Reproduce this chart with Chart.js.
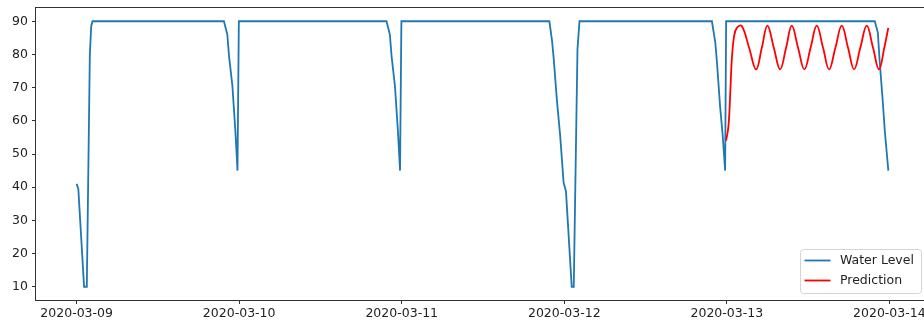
<!DOCTYPE html>
<html>
<head>
<meta charset="utf-8">
<title>Water Level</title>
<script src="https://cdn.jsdelivr.net/npm/chart.js@4.4.1/dist/chart.umd.min.js"></script>
<style>
  html, body { margin: 0; padding: 0; overflow: hidden; background: #fff; }
  #wrap { position: relative; width: 924px; height: 322px; overflow: hidden; }
  #levelChart { position: absolute; left: 0; top: 0; }
</style>
</head>
<body>
<div id="wrap"><canvas id="levelChart" width="931" height="322"></canvas></div>
<script>
// Water level vs prediction, hours counted from 2020-03-09 00:00

const waterHours = [
  0, 0.25, 1.1, 1.5, 1.95, 2.15, 2.35,
  21.75, 22.25, 22.5, 23.0, 23.45, 23.75, 23.95,
  45.75, 46.25, 46.5, 47.0, 47.45, 47.75, 47.95,
  69.8, 70.2, 70.45, 70.9, 71.4, 71.9, 72.25, 73.1, 73.4, 73.95, 74.25,
  93.8, 94.3, 94.55, 95.0, 95.4, 95.75, 95.9,
  117.85, 118.3, 118.55, 119.0, 119.35, 119.85
];
const waterValues = [
  41, 39.5, 10, 10, 80, 88.5, 90,
  90, 86, 79.5, 70.5, 56.5, 45, 90,
  90, 86, 79.5, 70.5, 56.5, 45, 90,
  90, 84, 78.5, 66.5, 55.4, 41.4, 38.8, 10, 10, 81.6, 90,
  90, 83.6, 77.5, 64.5, 55.4, 45, 90,
  90, 86.6, 78.5, 66.5, 56.4, 45
];

const predHours = [
  95.9, 96.24, 96.49, 96.74, 97.08, 97.48, 98.21,
  99.29, 100.32, 101.17, 101.99, 102.94, 103.87, 104.75, 105.59,
  106.52, 107.45, 108.37, 109.28, 110.21, 111.1, 112.03, 112.97,
  113.9, 114.79, 115.71, 116.66, 117.59, 118.47, 119.25, 119.84
];
const predValues = [
  54, 58.4, 67.5, 78.5, 85.6, 88, 88.6,
  82, 75.5, 82, 88.7, 82, 75.5, 82, 88.7,
  82, 75.5, 82, 88.7, 82, 75.5, 82, 88.7,
  82, 75.5, 82, 88.7, 82, 75.5, 82, 88
];

const xTickHours = [0, 24, 48, 72, 96, 120];
const xTickLabels = ['2020-03-09', '2020-03-10', '2020-03-11', '2020-03-12', '2020-03-13', '2020-03-14'];
const yTicks = [10, 20, 30, 40, 50, 60, 70, 80, 90];

const tickFont = { family: "'DejaVu Sans', sans-serif", size: 12.5 };

function toPoints(xs, ys) {
  return xs.map((x, i) => ({ x: x, y: ys[i] }));
}

// spines on all four sides + legend box in the lower right corner
const frameAndLegend = {
  id: 'frameAndLegend',
  afterDraw(chart) {
    const { ctx, chartArea: a } = chart;
    ctx.save();
    ctx.strokeStyle = '#333';
    ctx.lineWidth = 1;
    ctx.strokeRect(a.left - 0.5, a.top - 0.5, a.right - a.left + 1, a.bottom - a.top + 1);

    const w = 121, h = 44;
    const x0 = 800.5, y0 = a.bottom - 6.5 - h;
    ctx.beginPath();
    ctx.roundRect(x0, y0, w, h, 3);
    ctx.fillStyle = 'rgba(255,255,255,0.8)';
    ctx.fill();
    ctx.strokeStyle = '#d4d4d4';
    ctx.stroke();

    ctx.font = "12.5px 'DejaVu Sans', sans-serif";
    ctx.textBaseline = 'middle';
    chart.data.datasets.forEach((ds, i) => {
      const cy = y0 + 11 + i * 20;
      ctx.strokeStyle = ds.borderColor;
      ctx.lineWidth = 1.8;
      ctx.beginPath();
      ctx.moveTo(x0 + 4, cy);
      ctx.lineTo(x0 + 30, cy);
      ctx.stroke();
      ctx.fillStyle = '#222';
      ctx.fillText(ds.label, x0 + 39.5, cy);
    });
    ctx.restore();
  }
};

window.addEventListener('DOMContentLoaded', function () {
  const ctx = document.getElementById('levelChart');

  new Chart(ctx, {
    type: 'line',
    data: {
      datasets: [
        {
          label: 'Water Level',
          data: toPoints(waterHours, waterValues),
          borderColor: '#1f77b4',
          borderWidth: 1.8,
          pointRadius: 0,
          tension: 0,
          order: 1,
        },
        {
          label: 'Prediction',
          data: toPoints(predHours, predValues),
          borderColor: '#ff0000',
          borderWidth: 1.8,
          pointRadius: 0,
          tension: 0.4,
          order: 0,
        },
      ],
    },
    options: {
      responsive: false,
      animation: false,
      events: [],
      layout: { padding: { left: 0, right: 1, top: 8, bottom: 0 } },
      plugins: {
        legend: { display: false },
        tooltip: { enabled: false },
      },
      scales: {
        x: {
          type: 'linear',
          min: -6,
          max: 126,
          afterBuildTicks: (scale) => { scale.ticks = xTickHours.map(v => ({ value: v })); },
          afterFit: (scale) => {
            scale.height = 22;
            scale.paddingLeft = 0;
            scale.paddingRight = 0;
          },
          ticks: {
            font: tickFont,
            color: '#222',
            padding: 2,
            maxRotation: 0,
            autoSkip: false,
            callback: (v) => xTickLabels[xTickHours.indexOf(v)],
          },
          grid: { drawOnChartArea: false, drawTicks: true, tickLength: 4, color: '#333' },
          border: { display: false },
        },
        y: {
          min: 6,
          max: 94,
          afterBuildTicks: (scale) => { scale.ticks = yTicks.map(v => ({ value: v })); },
          afterFit: (scale) => {
            scale.width = 36;
            scale.paddingTop = 0;
            scale.paddingBottom = 0;
          },
          ticks: {
            font: tickFont,
            color: '#222',
            padding: 4,
          },
          grid: { drawOnChartArea: false, drawTicks: true, tickLength: 4, color: '#333' },
          border: { display: false },
        },
      },
    },
    plugins: [frameAndLegend],
  });
});
</script>
</body>
</html>
